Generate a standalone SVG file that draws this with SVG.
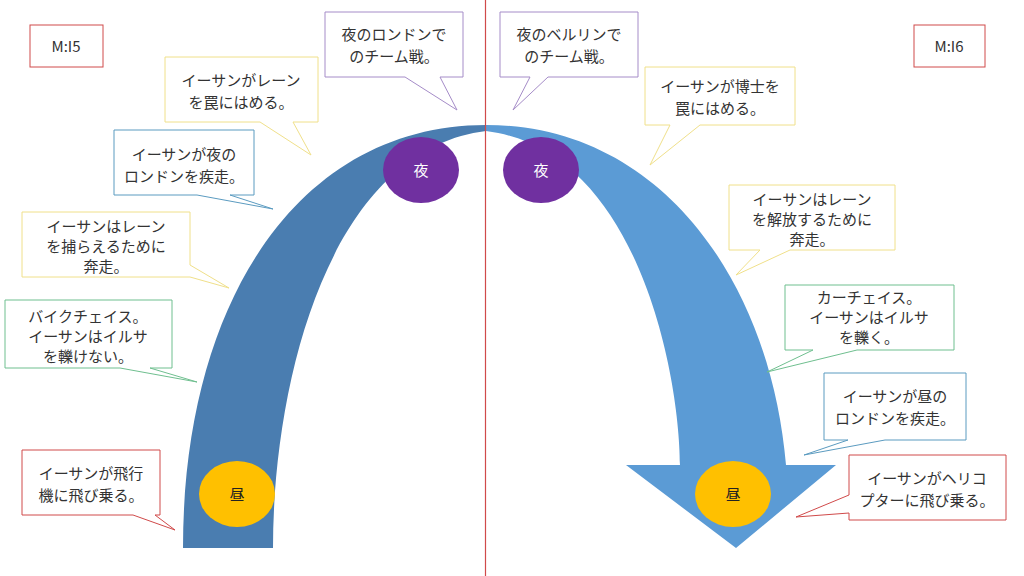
<svg xmlns="http://www.w3.org/2000/svg" width="1024" height="576" viewBox="0 0 1024 576">
<style>
text{font-family:"Noto Sans CJK JP","Liberation Sans",sans-serif;font-size:15px;fill:#333;text-anchor:middle}
.c{fill:#fff;stroke-width:1}
.y{stroke:#f0e08a}.b{stroke:#5b9bc0}.g{stroke:#6fbf8f}.r{stroke:#d04a4a}.p{stroke:#a58cc8}
</style>
<rect width="1024" height="576" fill="#fff"/>
<g id="arcs">
<path d="M183,548 C183,300 300,125 486,125 L486,131 C330,150 273,380 273,548 Z" fill="#4a7db0"/>
<path d="M486,125 C660,125 770,280 786,465 L836,465 L736,548 L626,465 L680,465 C680,380 640,150 486,131 Z" fill="#5b9bd5"/>
</g>
<line x1="485.5" y1="0" x2="485.5" y2="576" stroke="#d04a4a" stroke-width="1.2"/>
<g id="n-night-l"><ellipse cx="421" cy="170" rx="38" ry="33" fill="#7030a0"/><text x="421" y="176" style="fill:#fff">夜</text></g>
<g id="n-night-r"><ellipse cx="541" cy="170" rx="38" ry="33" fill="#7030a0"/><text x="541" y="176" style="fill:#fff">夜</text></g>
<g id="n-day-l"><ellipse cx="237" cy="494" rx="38" ry="33" fill="#ffc000"/><text x="237" y="500" style="fill:#222">昼</text></g>
<g id="n-day-r"><ellipse cx="733" cy="494" rx="38" ry="33" fill="#ffc000"/><text x="733" y="500" style="fill:#222">昼</text></g>
<g id="m5"><rect x="30" y="25" width="73" height="42" class="c r"/><text x="66" y="52">M:I5</text></g>
<g id="m6"><rect x="914" y="25" width="71" height="42" class="c r"/><text x="949" y="52">M:I6</text></g>
<g id="connectors">
<path id="c1" class="c p" d="M325,12 H463 V77 H440 L457,110 L405,77 H325 Z"/>
<path id="c2" class="c p" d="M500,12 H638 V77 H548 L513,110 L530,77 H500 Z"/>
<path id="c3" class="c y" d="M165,57 H318 V122 H293 L311,155 L260,122 H165 Z"/>
<path id="c4" class="c b" d="M114,130 H254 V195 H230 L273,209 L197,195 H114 Z"/>
<path id="c5" class="c y" d="M22,212 H190 V265 L229,288 L190,277 H22 Z"/>
<path id="c6" class="c g" d="M5,300 H172 V368 H150 L197,382 L120,368 H5 Z"/>
<path id="c7" class="c r" d="M22,450 H160 V515 H155 L175,530 L133,515 H22 Z"/>
<path id="c8" class="c y" d="M645,67 H795 V125 H700 L650,165 L670,125 H645 Z"/>
<path id="c9" class="c y" d="M729,185 H895 V250 H790 L736,275 L760,250 H729 Z"/>
<path id="c10" class="c g" d="M785,285 H954 V350 H857 L767,372 L813,350 H785 Z"/>
<path id="c11" class="c b" d="M824,373 H966 V440 H885 L804,455 L848,440 H824 Z"/>
<path id="c12" class="c r" d="M849,455 H1006 V520 H849 V513 L796,517 L849,495 Z"/>
</g>
<g id="t1"><text x="394" y="40">夜のロンドンで</text><text x="394" y="62">のチーム戦。</text></g>
<g id="t2"><text x="569" y="40">夜のベルリンで</text><text x="569" y="62">のチーム戦。</text></g>
<g id="t3"><text x="241" y="86">イーサンがレーン</text><text x="241" y="108">を罠にはめる。</text></g>
<g id="t4"><text x="184" y="160">イーサンが夜の</text><text x="184" y="182">ロンドンを疾走。</text></g>
<g id="t5"><text x="106" y="232">イーサンはレーン</text><text x="106" y="252">を捕らえるために</text><text x="106" y="272">奔走。</text></g>
<g id="t6"><text x="88" y="322">バイクチェイス。</text><text x="88" y="342">イーサンはイルサ</text><text x="88" y="362">を轢けない。</text></g>
<g id="t7"><text x="91" y="479">イーサンが飛行</text><text x="91" y="501">機に飛び乗る。</text></g>
<g id="t8"><text x="720" y="92">イーサンが博士を</text><text x="720" y="114">罠にはめる。</text></g>
<g id="t9"><text x="812" y="205">イーサンはレーン</text><text x="812" y="225">を解放するために</text><text x="812" y="245">奔走。</text></g>
<g id="t10"><text x="869" y="303">カーチェイス。</text><text x="869" y="323">イーサンはイルサ</text><text x="869" y="343">を轢く。</text></g>
<g id="t11"><text x="895" y="402">イーサンが昼の</text><text x="895" y="424">ロンドンを疾走。</text></g>
<g id="t12"><text x="927" y="484">イーサンがヘリコ</text><text x="927" y="506">プターに飛び乗る。</text></g>
</svg>
